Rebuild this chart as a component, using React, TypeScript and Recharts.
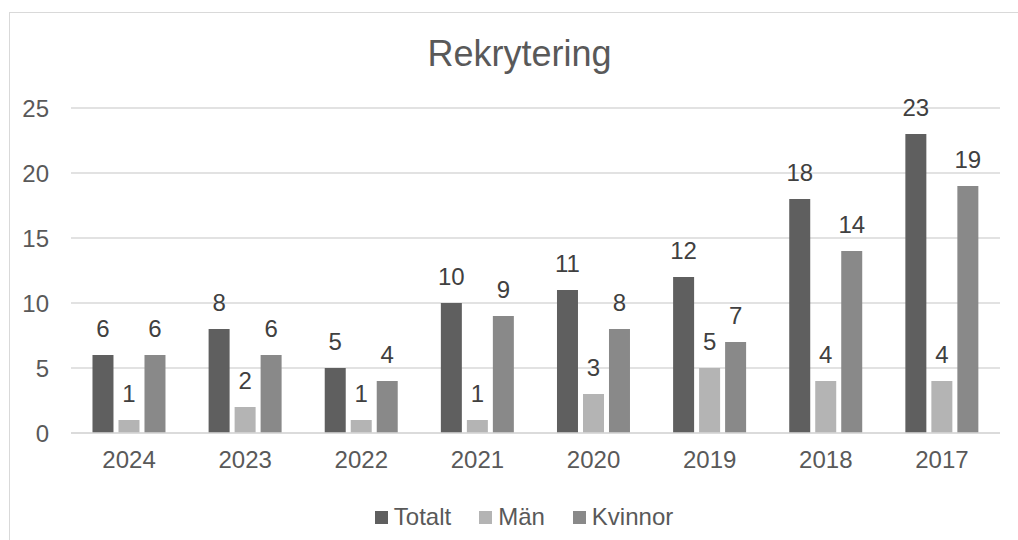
import { BarChart, Bar, XAxis, YAxis, CartesianGrid, Legend, LabelList } from 'recharts';

const years = ['2024', '2023', '2022', '2021', '2020', '2019', '2018', '2017'];
const totalt = [6, 8, 5, 10, 11, 12, 18, 23];
const man = [1, 2, 1, 1, 3, 5, 4, 4];
const kvinnor = [6, 6, 4, 9, 8, 7, 14, 19];
const yTicks = [0, 5, 10, 15, 20, 25];

const series = [
  { key: 'Totalt', color: '#5f5f5f' },
  { key: 'Män', color: '#b4b4b4' },
  { key: 'Kvinnor', color: '#898989' },
];

const data = years.map((year, i) => ({
  year,
  Totalt: totalt[i],
  'Män': man[i],
  Kvinnor: kvinnor[i],
}));

const font = '"Liberation Sans", Arial, sans-serif';
const textColor = '#595959';

const LegendRow = () => (
  <div style={{ display: 'flex', justifyContent: 'center', alignItems: 'center', gap: 28, height: 30, fontFamily: font, fontSize: 24, color: textColor }}>
    {series.map((s) => (
      <div key={s.key} style={{ display: 'flex', alignItems: 'center' }}>
        <span style={{ width: 13, height: 13, background: s.color, marginRight: 6, display: 'inline-block' }} />
        <span>{s.key}</span>
      </div>
    ))}
  </div>
);

export default function App() {
  return (
    <div style={{ position: 'fixed', left: 0, top: 0, width: 1018, height: 540, overflow: 'hidden', background: '#fff' }}>
      <div style={{ position: 'absolute', left: 9, top: 12, width: 1100, height: 600, border: '1.5px solid #d9d9d9' }} />
      <div style={{ position: 'absolute', left: 0, top: 36, width: 1039, textAlign: 'center', fontFamily: font, fontSize: 36, lineHeight: '36px', color: textColor }}>
        Rekrytering
      </div>
      <div style={{ position: 'absolute', left: 0, top: 0 }}>
        <BarChart width={1018} height={540} data={data} margin={{ top: 108, right: 18, left: 0, bottom: 8 }} barCategoryGap="18.5%" barGap={5}>
          <CartesianGrid vertical={false} stroke="#d9d9d9" strokeWidth={1.5} />
          <XAxis dataKey="year" axisLine={{ stroke: '#d9d9d9', strokeWidth: 1.5 }} tickLine={false} tickSize={0} tickMargin={18} height={69}
            tick={{ fontFamily: font, fontSize: 24, fill: textColor }} />
          <YAxis domain={[0, 25]} ticks={yTicks} axisLine={false} tickLine={false} tickSize={0} tickMargin={22} width={71}
            tick={{ fontFamily: font, fontSize: 24, fill: textColor }} />
          <Legend verticalAlign="bottom" content={() => <LegendRow />} wrapperStyle={{ left: 0, width: 1048 }} />
          {series.map((s) => (
            <Bar key={s.key} dataKey={s.key} fill={s.color} isAnimationActive={false}>
              <LabelList dataKey={s.key} position="top" offset={18} style={{ fontFamily: font, fontSize: 24, fill: '#404040' }} />
            </Bar>
          ))}
        </BarChart>
      </div>
    </div>
  );
}
